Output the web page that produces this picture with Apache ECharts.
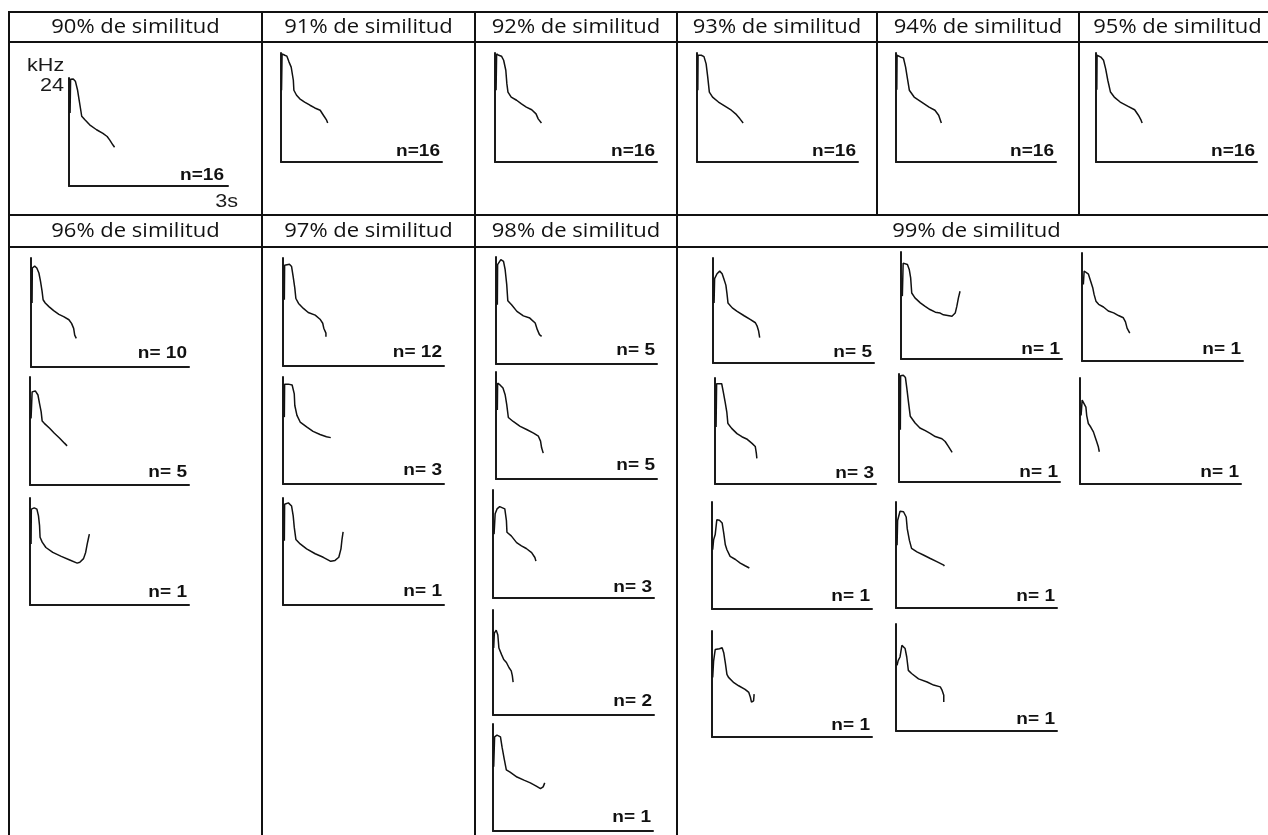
<!DOCTYPE html>
<html><head><meta charset="utf-8">
<script src="https://cdn.jsdelivr.net/npm/echarts/dist/echarts.min.js"></script>
<style>html,body{margin:0;padding:0;background:#fff}#c{width:1268px;height:835px}</style>
</head><body><div id="c"></div>
<script>
// ---- header labels ----
const headersRow1 = ['90% de similitud','91% de similitud','92% de similitud','93% de similitud','94% de similitud','95% de similitud'];
const headersRow2 = ['96% de similitud','97% de similitud','98% de similitud','99% de similitud'];
const axisUnitY = 'kHz', axisMaxY = 24, axisUnitX = 's', axisMaxX = 3;

// ---- contour values: [time (s), frequency (kHz)] ----
const c90 = [[0.02,16.2],[0.03,23.7],[0.08,23.8],[0.12,23.3],[0.16,21.4],[0.19,19.2],[0.22,17.0],[0.24,15.5],[0.30,14.7],[0.39,13.6],[0.52,12.5],[0.64,11.7],[0.72,11.0],[0.77,10.2],[0.83,9.1],[0.86,8.6]];
const c91 = [[0.01,15.8],[0.02,23.8],[0.07,23.5],[0.11,23.3],[0.15,22.0],[0.19,20.9],[0.23,18.0],[0.24,15.8],[0.29,14.7],[0.35,13.9],[0.44,13.2],[0.54,12.5],[0.63,11.9],[0.73,11.4],[0.79,10.3],[0.85,9.2],[0.87,8.6]];
const c92 = [[0.02,15.8],[0.03,23.8],[0.07,23.5],[0.12,23.3],[0.16,22.4],[0.20,20.2],[0.22,17.2],[0.24,15.4],[0.30,14.3],[0.40,13.6],[0.49,12.8],[0.58,12.1],[0.68,11.5],[0.76,10.6],[0.80,9.5],[0.86,8.6]];
const c93 = [[0.015,15.8],[0.02,23.5],[0.08,23.5],[0.13,23.2],[0.17,21.6],[0.20,18.7],[0.23,15.4],[0.29,14.3],[0.40,13.2],[0.52,12.3],[0.64,11.4],[0.72,10.6],[0.80,9.5],[0.86,8.6]];
const c94 = [[0.015,15.9],[0.02,23.5],[0.09,23.1],[0.14,22.9],[0.18,20.9],[0.21,18.7],[0.25,15.8],[0.34,14.3],[0.48,13.2],[0.62,12.1],[0.73,11.4],[0.80,10.3],[0.85,8.6]];
const c95 = [[0.015,15.9],[0.02,23.5],[0.09,23.1],[0.14,22.4],[0.18,20.5],[0.22,18.0],[0.27,15.4],[0.34,14.3],[0.45,13.2],[0.59,12.3],[0.72,11.5],[0.79,10.3],[0.84,9.2],[0.86,8.6]];
const c96a = [[0.02,14.1],[0.025,21.8],[0.07,22.2],[0.11,21.8],[0.15,20.7],[0.18,18.9],[0.21,16.7],[0.23,14.8],[0.27,14.1],[0.34,13.3],[0.43,12.4],[0.53,11.6],[0.62,11.1],[0.72,10.4],[0.77,9.6],[0.81,8.5],[0.83,7.0],[0.86,6.3]];
const c96b = [[0.02,14.8],[0.04,20.7],[0.10,20.9],[0.15,20.0],[0.18,18.1],[0.21,16.3],[0.23,14.2],[0.27,13.7],[0.37,12.6],[0.46,11.5],[0.56,10.4],[0.65,9.3],[0.70,8.7]];
const c96c = [[0.02,13.7],[0.025,21.5],[0.08,21.8],[0.13,21.5],[0.16,20.0],[0.18,17.8],[0.19,15.2],[0.23,14.1],[0.30,12.9],[0.43,11.8],[0.59,10.9],[0.75,10.1],[0.89,9.4],[0.94,9.6],[1.01,10.4],[1.05,11.8],[1.08,13.7],[1.10,14.8],[1.12,15.9]];
const c97a = [[0.025,14.7],[0.03,22.4],[0.12,22.6],[0.16,22.1],[0.19,19.8],[0.22,17.3],[0.24,15.0],[0.29,13.9],[0.38,12.8],[0.47,11.9],[0.60,11.3],[0.69,10.4],[0.74,9.5],[0.76,8.4],[0.80,7.3],[0.80,6.5]];
const c97b = [[0.025,15.0],[0.03,22.4],[0.10,22.4],[0.17,22.2],[0.21,20.2],[0.22,17.6],[0.26,15.4],[0.32,13.9],[0.44,12.8],[0.56,11.8],[0.69,11.1],[0.81,10.6],[0.89,10.4]];
const c97c = [[0.025,14.4],[0.03,22.6],[0.10,22.9],[0.16,22.2],[0.19,20.0],[0.21,17.4],[0.24,14.7],[0.32,13.7],[0.44,12.6],[0.60,11.5],[0.75,10.7],[0.89,9.8],[0.97,10.0],[1.04,10.7],[1.08,12.6],[1.10,14.8],[1.12,16.4]];
const c98a = [[0.025,13.3],[0.03,22.3],[0.09,23.4],[0.14,23.0],[0.17,21.2],[0.20,17.8],[0.22,14.2],[0.29,13.3],[0.39,11.8],[0.51,10.8],[0.63,10.3],[0.73,9.2],[0.77,7.7],[0.81,6.6],[0.85,6.2]];
const c98b = [[0.025,15.5],[0.03,21.5],[0.075,21.1],[0.13,20.4],[0.17,18.9],[0.20,16.7],[0.23,13.8],[0.32,12.9],[0.45,11.8],[0.57,11.1],[0.70,10.3],[0.79,9.6],[0.83,8.5],[0.85,7.0],[0.88,5.8]];
const c98c = [[0.02,14.2],[0.04,18.7],[0.075,19.8],[0.125,20.3],[0.22,19.8],[0.25,17.2],[0.26,14.6],[0.34,13.8],[0.44,12.3],[0.53,11.6],[0.62,11.0],[0.72,10.1],[0.78,9.0],[0.80,8.2]];
const c98d = [[0.013,15.3],[0.025,18.7],[0.06,19.4],[0.09,18.3],[0.11,15.3],[0.16,13.8],[0.20,12.7],[0.25,12.0],[0.30,10.8],[0.34,10.1],[0.36,9.0],[0.375,7.5]];
const c98e = [[0.013,14.4],[0.03,21.1],[0.075,21.5],[0.14,21.1],[0.17,18.8],[0.21,16.2],[0.25,13.7],[0.32,13.2],[0.45,12.1],[0.58,11.4],[0.70,10.8],[0.82,10.0],[0.89,9.5],[0.94,9.9],[0.97,10.8]];
const c99a1 = [[0.02,13.7],[0.03,19.3],[0.075,20.4],[0.125,21.0],[0.17,20.4],[0.20,19.3],[0.24,17.8],[0.26,15.9],[0.28,13.7],[0.36,12.6],[0.45,11.8],[0.58,10.8],[0.70,9.9],[0.79,9.2],[0.82,8.5],[0.85,7.3],[0.87,5.8]];
const c99b1 = [[0.025,14.1],[0.04,21.5],[0.075,21.9],[0.12,21.2],[0.155,20.0],[0.18,18.2],[0.20,14.8],[0.26,13.7],[0.36,12.6],[0.45,11.8],[0.54,11.1],[0.64,10.5],[0.73,10.3],[0.79,9.9],[0.82,9.6],[0.95,9.6],[1.01,10.3],[1.04,11.8],[1.07,13.7],[1.10,15.2]];
const c99c1 = [[0.025,17.0],[0.04,20.0],[0.075,20.0],[0.12,19.3],[0.16,17.8],[0.20,16.3],[0.225,14.8],[0.26,13.3],[0.31,12.6],[0.40,12.0],[0.49,11.1],[0.59,10.7],[0.68,10.1],[0.77,9.6],[0.81,8.7],[0.84,7.3],[0.89,6.2]];
const c99a2 = [[0.02,12.9],[0.03,22.7],[0.06,22.8],[0.125,22.7],[0.155,20.8],[0.19,18.5],[0.22,16.3],[0.24,13.7],[0.31,12.6],[0.41,11.4],[0.50,10.7],[0.59,10.2],[0.69,9.2],[0.75,8.5],[0.77,7.0],[0.78,5.8]];
const c99b2 = [[0.025,11.6],[0.03,23.6],[0.08,23.7],[0.12,23.2],[0.145,20.9],[0.175,17.9],[0.21,14.6],[0.24,14.2],[0.30,13.1],[0.39,12.0],[0.49,11.4],[0.58,10.8],[0.675,10.1],[0.80,9.6],[0.86,9.0],[0.92,7.9],[0.99,6.6]];
const c99c2 = [[0.02,15.5],[0.04,19.0],[0.075,18.9],[0.11,17.4],[0.125,15.5],[0.155,13.7],[0.20,12.9],[0.25,11.8],[0.28,10.7],[0.31,9.6],[0.34,8.5],[0.36,7.3]];
const c99a3 = [[0.013,13.3],[0.03,15.5],[0.06,16.7],[0.09,20.0],[0.14,19.9],[0.19,19.3],[0.22,17.0],[0.25,14.4],[0.28,13.3],[0.34,11.8],[0.44,11.1],[0.53,10.3],[0.62,9.7],[0.70,9.2]];
const c99b3 = [[0.02,14.2],[0.03,19.8],[0.075,21.9],[0.14,21.8],[0.19,20.6],[0.21,17.9],[0.25,15.3],[0.29,13.5],[0.39,12.7],[0.51,12.0],[0.64,11.2],[0.76,10.5],[0.89,9.7],[0.90,9.5]];
const c99a4 = [[0.013,13.5],[0.03,17.2],[0.06,19.8],[0.14,20.0],[0.19,20.2],[0.22,19.1],[0.25,16.8],[0.28,14.2],[0.31,13.5],[0.41,12.3],[0.50,11.6],[0.62,10.8],[0.69,10.1],[0.72,9.0],[0.74,7.9],[0.78,8.2],[0.79,9.7]];
const c99b4 = [[0.02,14.7],[0.04,15.8],[0.075,16.6],[0.11,19.2],[0.14,19.6],[0.17,18.5],[0.20,16.6],[0.23,13.6],[0.29,12.9],[0.42,11.7],[0.58,11.0],[0.70,10.3],[0.825,9.9],[0.86,9.1],[0.89,8.0],[0.89,6.5]];

// ---- group sizes (n) ----
const nRow1 = [16,16,16,16,16,16];
const n96 = [10,5,1];
const n97 = [12,3,1];
const n98 = [5,5,3,2,1];
const n99 = [5,1,1,3,1,1,1,1,1,1];

// ---- layout (pixel boxes of each mini plot: left, top, width, height, label gap) ----
const plots = [
  {d:c90, n:nRow1[0], sep:'', box:[69,78,159,108], gap:5, inset:4},
  {d:c91, n:nRow1[1], sep:'', box:[281,53,161,109], gap:5},
  {d:c92, n:nRow1[2], sep:'', box:[495,53,162,109], gap:5},
  {d:c93, n:nRow1[3], sep:'', box:[697,53,161,109], gap:5},
  {d:c94, n:nRow1[4], sep:'', box:[896,53,160,109], gap:5},
  {d:c95, n:nRow1[5], sep:'', box:[1096,53,161,109], gap:5},
  {d:c96a, n:n96[0], sep:' ', box:[31,258,158,109], gap:8},
  {d:c96b, n:n96[1], sep:' ', box:[30,377,159,108], gap:7},
  {d:c96c, n:n96[2], sep:' ', box:[30,498,159,107], gap:7},
  {d:c97a, n:n97[0], sep:' ', box:[283,258,161,108], gap:8},
  {d:c97b, n:n97[1], sep:' ', box:[283,377,161,107], gap:8},
  {d:c97c, n:n97[2], sep:' ', box:[283,498,161,107], gap:8},
  {d:c98a, n:n98[0], sep:' ', box:[496,257,161,107], gap:8},
  {d:c98b, n:n98[1], sep:' ', box:[496,372,161,107], gap:8},
  {d:c98c, n:n98[2], sep:' ', box:[493,490,161,108], gap:5},
  {d:c98d, n:n98[3], sep:' ', box:[493,610,161,105], gap:8},
  {d:c98e, n:n98[4], sep:' ', box:[493,724,160,107], gap:8},
  {d:c99a1, n:n99[0], sep:' ', box:[713,258,161,105], gap:5},
  {d:c99b1, n:n99[1], sep:' ', box:[901,252,161,107], gap:4},
  {d:c99c1, n:n99[2], sep:' ', box:[1082,253,161,108], gap:6},
  {d:c99a2, n:n99[3], sep:' ', box:[715,378,161,106], gap:5},
  {d:c99b2, n:n99[4], sep:' ', box:[899,374,161,108], gap:4},
  {d:c99c2, n:n99[5], sep:' ', box:[1080,378,161,106], gap:6},
  {d:c99a3, n:n99[6], sep:' ', box:[712,502,160,107], gap:7},
  {d:c99b3, n:n99[7], sep:' ', box:[896,502,161,106], gap:6},
  {d:c99a4, n:n99[8], sep:' ', box:[712,631,160,106], gap:6},
  {d:c99b4, n:n99[9], sep:' ', box:[896,624,161,107], gap:6}
];

const row1Cells = [[9,262],[262,475],[475,677],[677,877],[877,1079],[1079,1276]];
const row2Cells = [[9,262],[262,475],[475,677],[677,1276]];

const LINE = '#111', AXIS = '#1a1a1a', CURVE = '#111';

const grid = [], xAxis = [], yAxis = [], series = [], graphic = [];
plots.forEach((p, i) => {
  const [l, t, w, h] = p.box;
  grid.push({left:l, top:t, width:w, height:h, containLabel:false});
  const axBase = {axisTick:{show:false}, axisLabel:{show:false}, splitLine:{show:false},
    axisLine:{show:true, onZero:false, lineStyle:{color:AXIS, width:2}}};
  xAxis.push(Object.assign({gridIndex:i, type:'value', min:0, max:axisMaxX}, axBase));
  yAxis.push(Object.assign({gridIndex:i, type:'value', min:0, max:axisMaxY}, axBase));
  series.push({type:'line', xAxisIndex:i, yAxisIndex:i, data:p.d, symbol:'none', showSymbol:false,
    clip:false, silent:true, animation:false, lineStyle:{color:CURVE, width:1.5}});
  graphic.push({type:'text', x:l + w - (p.inset || 2), y:t + h - p.gap - 5.5, scaleX:1.12, silent:true,
    style:{text:'n=' + p.sep + p.n, font:'bold 17px "Liberation Sans", Arial, sans-serif',
      fill:'#111', align:'right', verticalAlign:'middle', textAlign:'right', textVerticalAlign:'middle'}});
});

// table lines
function hline(y, x1, x2){ graphic.push({type:'line', silent:true, shape:{x1:x1, y1:y, x2:x2, y2:y}, style:{stroke:LINE, lineWidth:2}}); }
function vline(x, y1, y2){ graphic.push({type:'line', silent:true, shape:{x1:x, y1:y1, x2:x, y2:y2}, style:{stroke:LINE, lineWidth:2}}); }
hline(12, 8, 1280); hline(42, 8, 1280); hline(215, 8, 1280); hline(247, 8, 1280);
vline(9, 11, 840); vline(262, 11, 840); vline(475, 11, 840); vline(677, 11, 840);
vline(877, 11, 216); vline(1079, 11, 216);

function header(text, c, y){
  graphic.push({type:'text', x:(c[0] + c[1]) / 2, y:y, scaleX:1.1, silent:true,
    style:{text:text, font:'20px "Open Sans", "Noto Sans", sans-serif', fill:'#111',
      align:'center', verticalAlign:'middle', textAlign:'center', textVerticalAlign:'middle'}});
}
headersRow1.forEach((h, i) => header(h, row1Cells[i], 27));
headersRow2.forEach((h, i) => header(h, row2Cells[i], 231));

// axis annotations of the first plot
function note(text, x, y, align){
  graphic.push({type:'text', x:x, y:y, scaleX:1.2, silent:true,
    style:{text:text, font:'18px "Liberation Sans", Arial, sans-serif', fill:'#1a1a1a',
      align:align, verticalAlign:'middle', textAlign:align, textVerticalAlign:'middle'}});
}
note(axisUnitY, 27, 66, 'left');
note(String(axisMaxY), 64, 86, 'right');
note(axisMaxX + axisUnitX, 238, 202, 'right');

const chart = echarts.init(document.getElementById('c'), null, {renderer:'canvas'});
chart.setOption({animation:false, backgroundColor:'#fff', grid, xAxis, yAxis, series, graphic});
</script></body></html>
